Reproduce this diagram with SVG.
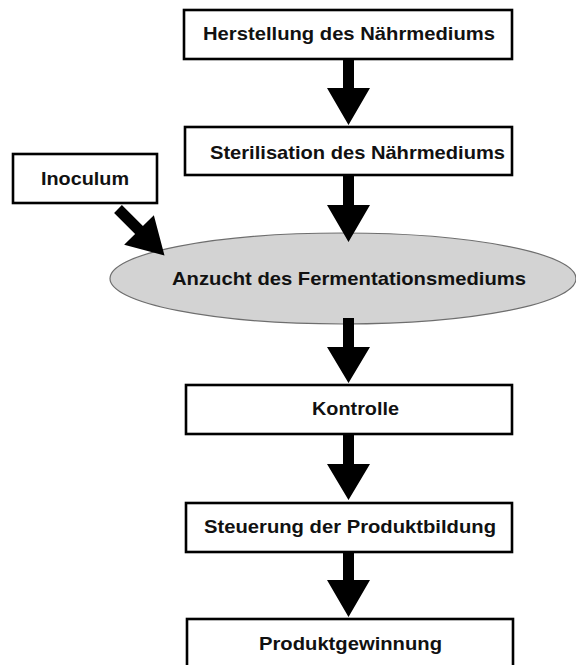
<svg xmlns="http://www.w3.org/2000/svg" width="576" height="665" viewBox="0 0 576 665">
<style>
.box{fill:#fff;stroke:#000;stroke-width:2.6}
.ell{fill:#d3d3d3;stroke:#6e6e6e;stroke-width:1.2}
.t{font-family:"Liberation Sans",Arial,sans-serif;font-weight:bold;font-size:19px;fill:#111}
.arr{fill:#000}
</style>
<rect width="576" height="665" fill="#fff"/>
<g id="n1"><rect class="box" x="184" y="10" width="328" height="49"/><text class="t" x="203" y="39.5" textLength="292" lengthAdjust="spacingAndGlyphs">Herstellung des Nährmediums</text></g>
<g id="n2"><rect class="box" x="185" y="127" width="327" height="48"/><text class="t" x="210" y="159" textLength="295" lengthAdjust="spacingAndGlyphs">Sterilisation des Nährmediums</text></g>
<g id="n3"><rect class="box" x="13" y="154" width="144" height="49"/><text class="t" x="41" y="185" textLength="88" lengthAdjust="spacingAndGlyphs">Inoculum</text></g>
<g id="n4"><ellipse class="ell" cx="343" cy="278.5" rx="233" ry="45.5"/><text class="t" x="172" y="285" textLength="354" lengthAdjust="spacingAndGlyphs">Anzucht des Fermentationsmediums</text></g>
<g id="n5"><rect class="box" x="186" y="385" width="326" height="49"/><text class="t" x="312" y="415" textLength="87" lengthAdjust="spacingAndGlyphs">Kontrolle</text></g>
<g id="n6"><rect class="box" x="186" y="503" width="326" height="49"/><text class="t" x="204" y="533" textLength="292" lengthAdjust="spacingAndGlyphs">Steuerung der Produktbildung</text></g>
<g id="n7"><rect class="box" x="187" y="619" width="326" height="49"/><text class="t" x="259" y="650" textLength="183" lengthAdjust="spacingAndGlyphs">Produktgewinnung</text></g>
<g id="connectors">
<polygon class="arr" points="343,59 354,59 354,88 370,88 348.5,125 327,88 343,88"/>
<polygon class="arr" points="343,175 354,175 354,205 370,205 348.5,242 327,205 343,205"/>
<polygon class="arr" points="343,318 354,318 354,347 370,347 348.5,383 327,347 343,347"/>
<polygon class="arr" points="343,434 354,434 354,464 370,464 348.5,500 327,464 343,464"/>
<polygon class="arr" points="343,552 354,552 354,580 370,580 348.5,617 327,580 343,580"/>
<polygon class="arr" points="121.9,205.1 142.9,226.1 153.85,215.15 164.5,255.5 124.15,244.85 135.1,233.9 114.1,212.9"/>
</g>
</svg>
